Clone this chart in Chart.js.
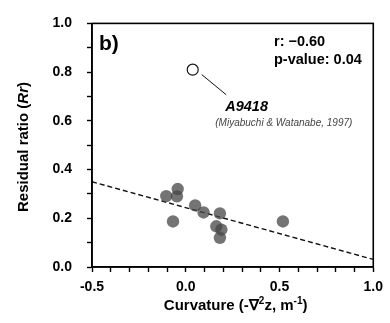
<!DOCTYPE html>
<html>
<head>
<meta charset="utf-8">
<script src="https://cdn.jsdelivr.net/npm/chart.js@4/dist/chart.umd.min.js"></script>
<style>
  html, body { margin: 0; padding: 0; background: #fff; }
  #wrap { width: 390px; height: 323px; position: relative; }
</style>
</head>
<body>
<div id="wrap"><canvas id="c"></canvas></div>
<script>
// Data
const curvature = [-0.104, -0.043, -0.047, -0.068, 0.05, 0.095, 0.182, 0.163, 0.19, 0.182, 0.518];
const residualRatio = [0.291, 0.32, 0.29, 0.187, 0.253, 0.224, 0.22, 0.167, 0.153, 0.12, 0.187];
const outlierX = [0.037];
const outlierY = [0.81];
const trendX = [-0.5, 1.0];
const trendY = [0.35, 0.031];
const leaderX = [0.085, 0.216];
const leaderY = [0.79, 0.707];
const xMajorTicks = [-0.5, 0.0, 0.5, 1.0];
const yMajorTicks = [0.0, 0.2, 0.4, 0.6, 0.8, 1.0];
const statsLines = ['r: \u22120.60', 'p-value: 0.04'];
const panelLabel = 'b)';
const outlierLabel = 'A9418';
const outlierRef = '(Miyabuchi & Watanabe, 1997)';

const zip = (xs, ys) => xs.map((x, i) => ({ x: x, y: ys[i] }));
const FONT = "'Liberation Sans', Arial, sans-serif";
const isMajor = (v, list) => list.some(m => Math.abs(m - v) < 1e-6);

const frameAndText = {
  id: 'frameAndText',
  afterDraw(chart) {
    const ctx = chart.ctx;
    const a = chart.chartArea;
    const xs = chart.scales.x, ys = chart.scales.y;
    ctx.save();
    // frame
    ctx.strokeStyle = '#000';
    ctx.lineWidth = 1.6;
    ctx.strokeRect(a.left, a.top, a.right - a.left, a.bottom - a.top);
    // panel label
    ctx.fillStyle = '#000';
    ctx.textBaseline = 'middle';
    ctx.textAlign = 'left';
    ctx.font = 'bold 21px ' + FONT;
    ctx.fillText(panelLabel, a.left + 7, a.top + 21);
    // stats
    ctx.font = 'bold 14.5px ' + FONT;
    ctx.fillText(statsLines[0], a.left + 182, a.top + 19);
    ctx.fillText(statsLines[1], a.left + 182, a.top + 37);
    // outlier label
    const lx = xs.getPixelForValue(leaderX[1]);
    const ly = ys.getPixelForValue(leaderY[1]);
    ctx.font = 'italic bold 14.5px ' + FONT;
    ctx.fillText(outlierLabel, lx - 1, ly + 12);
    ctx.font = 'italic 10px ' + FONT;
    ctx.fillStyle = '#444';
    ctx.fillText(outlierRef, lx - 11, ly + 28.5);
    // x title with superscripts
    ctx.fillStyle = '#000';
    const cx = (a.left + a.right) / 2 + 3;
    const ty = 306;
    const parts = [
      ['Curvature (-\u2207', 15, 0],
      ['2', 10, -5],
      ['z, m', 15, 0],
      ['-1', 10, -5],
      [')', 15, 0]
    ];
    let total = 0;
    parts.forEach(p => { ctx.font = 'bold ' + p[1] + 'px ' + FONT; total += ctx.measureText(p[0]).width; });
    let x = cx - total / 2;
    parts.forEach(p => {
      ctx.font = 'bold ' + p[1] + 'px ' + FONT;
      ctx.fillText(p[0], x, ty + p[2]);
      x += ctx.measureText(p[0]).width;
    });
    // y title, rotated, with italic Rr
    ctx.translate(24, 147);
    ctx.rotate(-Math.PI / 2);
    const yparts = [
      ['Residual ratio (', 'bold 15px '],
      ['Rr', 'italic bold 15px '],
      [')', 'bold 15px ']
    ];
    total = 0;
    yparts.forEach(p => { ctx.font = p[1] + FONT; total += ctx.measureText(p[0]).width; });
    x = -total / 2;
    yparts.forEach(p => {
      ctx.font = p[1] + FONT;
      ctx.fillText(p[0], x, 0);
      x += ctx.measureText(p[0]).width;
    });
    ctx.restore();
  }
};

new Chart(document.getElementById('c'), {
  type: 'scatter',
  data: {
    datasets: [
      {
        type: 'line',
        data: zip(trendX, trendY),
        borderColor: '#111',
        borderWidth: 1.4,
        borderDash: [5, 3],
        pointRadius: 0,
        fill: false,
        order: 3
      },
      {
        type: 'line',
        data: zip(leaderX, leaderY),
        borderColor: '#111',
        borderWidth: 1,
        pointRadius: 0,
        fill: false,
        order: 2
      },
      {
        data: zip(curvature, residualRatio),
        backgroundColor: 'rgba(70,70,70,0.75)',
        borderColor: 'rgba(0,0,0,0)',
        borderWidth: 0,
        pointRadius: 6.2,
        order: 1
      },
      {
        data: zip(outlierX, outlierY),
        backgroundColor: '#fff',
        borderColor: '#111',
        borderWidth: 1.2,
        pointRadius: 5.5,
        order: 0
      }
    ]
  },
  options: {
    responsive: true,
    maintainAspectRatio: false,
    animation: false,
    devicePixelRatio: 1,
    layout: { padding: { left: 0, top: 16, right: 12, bottom: 0 } },
    plugins: { legend: { display: false }, tooltip: { enabled: false } },
    scales: {
      x: {
        type: 'linear',
        min: -0.5,
        max: 1.0,
        afterFit(s) { s.height = 56; },
        border: { display: true, color: '#000', width: 1.6 },
        grid: { display: true, drawOnChartArea: false, drawTicks: true, tickLength: 5, tickColor: '#000', tickWidth: 1.4 },
        ticks: {
          stepSize: 0.1,
          autoSkip: false,
          maxRotation: 0,
          padding: 7,
          color: '#000',
          font: { family: FONT, size: 14, weight: 'bold' },
          callback: v => isMajor(v, xMajorTicks) ? v.toFixed(1) : ''
        }
      },
      y: {
        type: 'linear',
        min: 0,
        max: 1.0,
        afterFit(s) { s.width = 92; },
        border: { display: true, color: '#000', width: 1.6 },
        grid: { display: true, drawOnChartArea: false, drawTicks: true, tickLength: 5, tickColor: '#000', tickWidth: 1.4 },
        ticks: {
          stepSize: 0.1,
          autoSkip: false,
          padding: 15,
          color: '#000',
          font: { family: FONT, size: 14, weight: 'bold' },
          callback: v => isMajor(v, yMajorTicks) ? v.toFixed(1) : ''
        }
      }
    }
  },
  plugins: [frameAndText]
});
</script>
</body>
</html>
